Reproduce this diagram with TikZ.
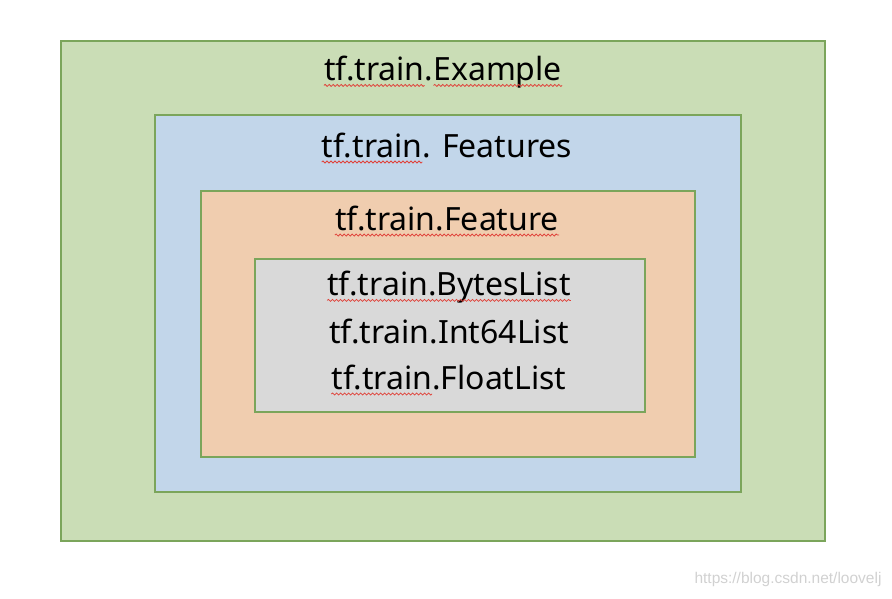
\documentclass[tikz,border=0pt]{standalone}
\usepackage{fontspec}
\usetikzlibrary{decorations.pathmorphing}
\setmainfont{Noto Sans}
\newfontfamily\wmfont{Liberation Sans}

\definecolor{exgreen}{HTML}{CADDB6}
\definecolor{ftblue}{HTML}{C2D6EA}
\definecolor{fkorange}{HTML}{F0CDAF}
\definecolor{lsgray}{HTML}{D9D9D9}
\definecolor{edgegreen}{HTML}{7BA55B}
\definecolor{spellred}{HTML}{E0423A}

\newcommand{\titlefont}{\fontsize{32}{32}\selectfont}
\newlength{\tftrainlen}
\newlength{\examplelen}

\tikzset{
  layer/.style={draw=edgegreen,line width=1.6pt},
  title/.style={font=\titlefont,inner sep=0pt},
  squiggle/.style={draw=spellred,line width=0.8pt,
    decoration={snake,segment length=4pt,amplitude=1pt},decorate},
}

\begin{document}
% widths of the words that get a spell-check wave
\settowidth{\tftrainlen}{\titlefont tf.train}%
\settowidth{\examplelen}{\titlefont Example}%
\begin{tikzpicture}[x=1pt,y=-1pt]
  \useasboundingbox (0,0) rectangle (892,598);

  \draw[layer,fill=exgreen] (61,41) rectangle (825,541);
  \draw[layer,fill=ftblue] (155,115) rectangle (741,492);
  \draw[layer,fill=fkorange] (201,191) rectangle (695,457);
  \draw[layer,fill=lsgray] (255,259) rectangle (645,412);

  \node[title] (example) at (443,72) {tf.train.Example};
  \node[title] (features) at (447,145) {tf.train. Features};
  \node[title] (feature) at (447,218) {tf.train.Feature};

  \node[title] (byteslist) at (449,287) {tf.train.BytesList};
  \node[title] (int64list) at (449,331) {tf.train.Int64List};
  \node[title] (floatlist) at (449,377) {tf.train.FloatList};

  \draw[squiggle] ([yshift=-5pt]example.base west) -- ++(\tftrainlen,0pt);
  \draw[squiggle] ([yshift=-5pt]example.base east) -- ++(-\examplelen,0pt);
  \draw[squiggle] ([yshift=-5pt]features.base west) -- ++(\tftrainlen,0pt);
  \draw[squiggle] ([yshift=-5pt]feature.base west) -- ([yshift=-5pt]feature.base east);
  \draw[squiggle] ([yshift=-5pt]byteslist.base west) -- ([yshift=-5pt]byteslist.base east);
  \draw[squiggle] ([yshift=-5pt]floatlist.base west) -- ++(\tftrainlen,0pt);

  \node[font=\wmfont\fontsize{15.5}{15.5}\selectfont,text=black!18,inner sep=0pt] (mark) at (788,579) {https://blog.csdn.net/loovelj};
\end{tikzpicture}
\end{document}
